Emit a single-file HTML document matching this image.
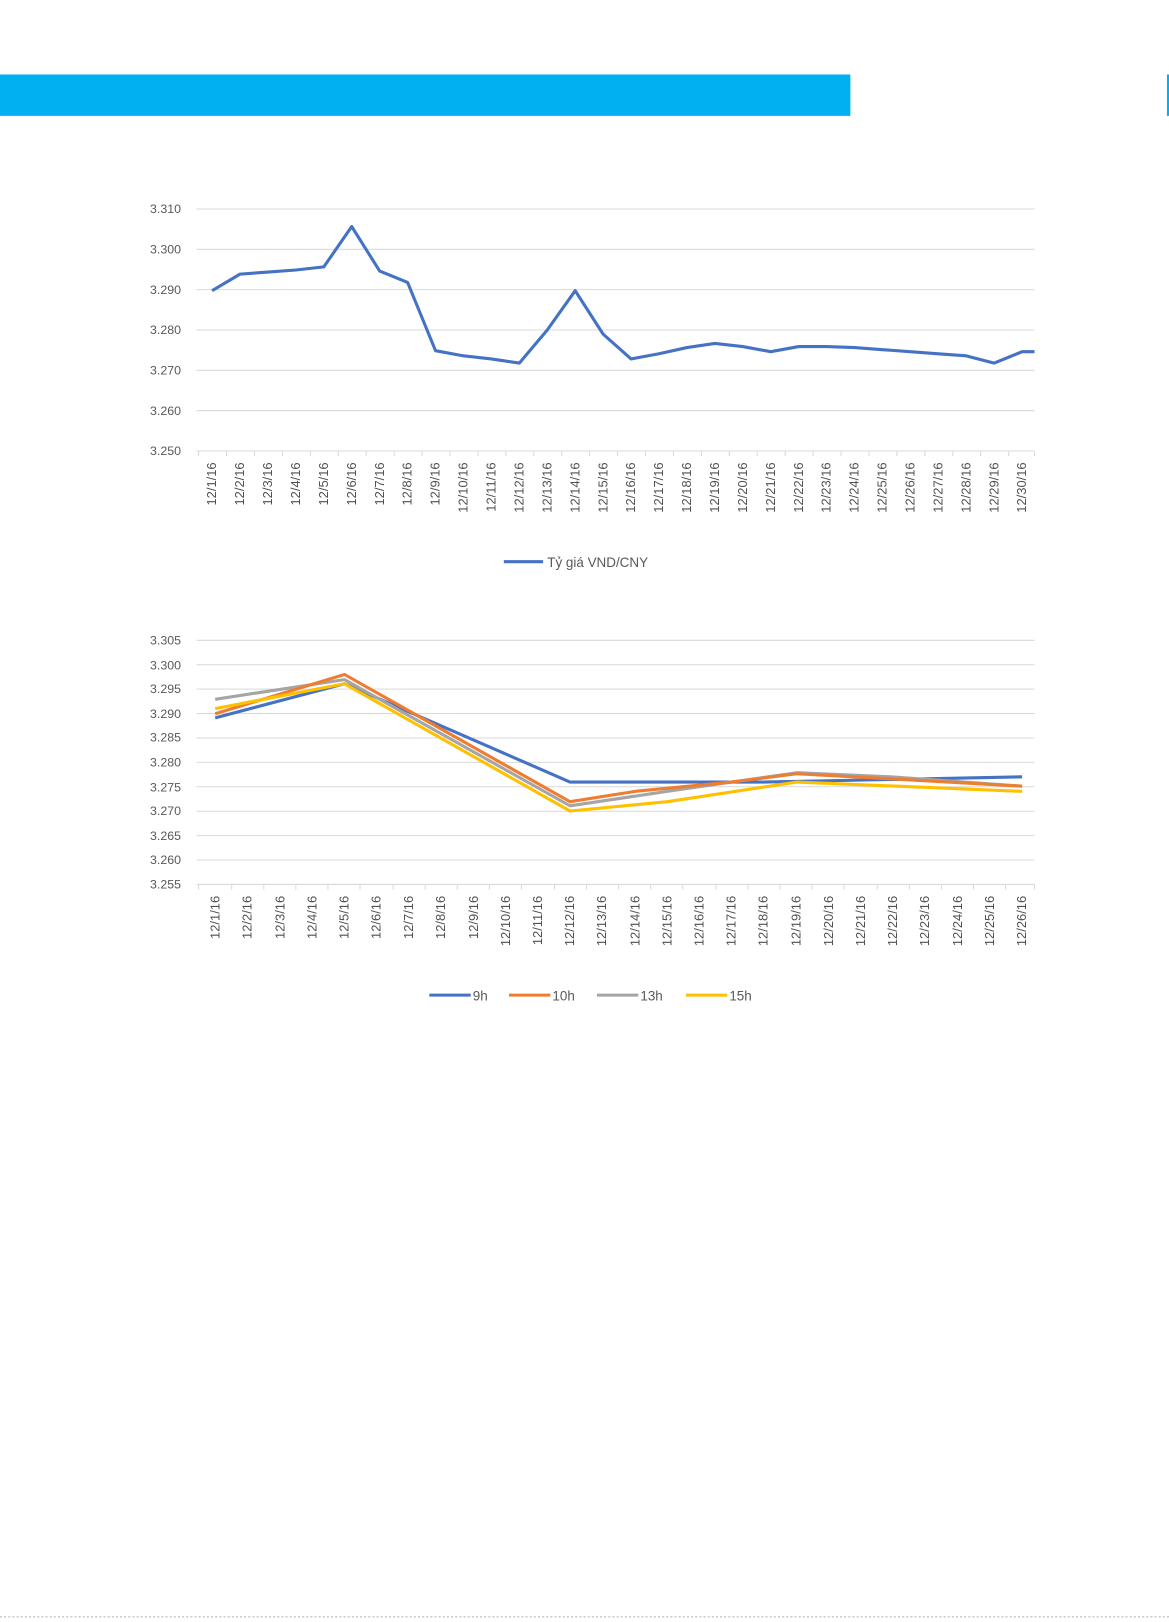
<!DOCTYPE html>
<html><head><meta charset="utf-8"><style>
html,body{margin:0;padding:0;background:#fff;}
svg{display:block;}
text{font-family:"Liberation Sans",sans-serif;fill:#595959;}
.xl text{fill:#505050;}
</style></head><body>
<svg width="1169" height="1622" viewBox="0 0 1130 1568" preserveAspectRatio="none" xmlns="http://www.w3.org/2000/svg">
<rect x="0" y="72" width="822" height="40" fill="#00b0f0"/>
<rect x="1128" y="72" width="2" height="40" fill="#00b0f0"/>

<!-- Chart 1 -->
<g stroke="#d9d9d9" stroke-width="1">
<line x1="190" y1="202" x2="1000" y2="202"/>
<line x1="190" y1="241" x2="1000" y2="241"/>
<line x1="190" y1="280" x2="1000" y2="280"/>
<line x1="190" y1="319" x2="1000" y2="319"/>
<line x1="190" y1="358" x2="1000" y2="358"/>
<line x1="190" y1="397" x2="1000" y2="397"/>
<line x1="190" y1="436" x2="1000" y2="436"/>
</g>
<g stroke="#d9d9d9" stroke-width="1">
<path d="M192 436v5M219 436v5M246 436v5M273 436v5M300 436v5M327 436v5M354 436v5M381 436v5M408 436v5M435 436v5M462 436v5M489 436v5M516 436v5M543 436v5M570 436v5M597 436v5M624 436v5M651 436v5M678 436v5M705 436v5M732 436v5M759 436v5M786 436v5M813 436v5M840 436v5M867 436v5M894 436v5M921 436v5M948 436v5M975 436v5M1000 436v5"/>
</g>
<g font-size="12" text-anchor="end">
<text x="175" y="206">3.310</text><text x="175" y="245">3.300</text><text x="175" y="284">3.290</text>
<text x="175" y="323">3.280</text><text x="175" y="362">3.270</text><text x="175" y="401">3.260</text><text x="175" y="440">3.250</text>
</g>
<g class="xl" font-size="12.5" text-anchor="end">
<text transform="translate(209,447) rotate(-90)">12/1/16</text>
<text transform="translate(236,447) rotate(-90)">12/2/16</text>
<text transform="translate(263,447) rotate(-90)">12/3/16</text>
<text transform="translate(290,447) rotate(-90)">12/4/16</text>
<text transform="translate(317,447) rotate(-90)">12/5/16</text>
<text transform="translate(344,447) rotate(-90)">12/6/16</text>
<text transform="translate(371,447) rotate(-90)">12/7/16</text>
<text transform="translate(398,447) rotate(-90)">12/8/16</text>
<text transform="translate(425,447) rotate(-90)">12/9/16</text>
<text transform="translate(452,447) rotate(-90)">12/10/16</text>
<text transform="translate(479,447) rotate(-90)">12/11/16</text>
<text transform="translate(506,447) rotate(-90)">12/12/16</text>
<text transform="translate(533,447) rotate(-90)">12/13/16</text>
<text transform="translate(560,447) rotate(-90)">12/14/16</text>
<text transform="translate(587,447) rotate(-90)">12/15/16</text>
<text transform="translate(614,447) rotate(-90)">12/16/16</text>
<text transform="translate(641,447) rotate(-90)">12/17/16</text>
<text transform="translate(668,447) rotate(-90)">12/18/16</text>
<text transform="translate(695,447) rotate(-90)">12/19/16</text>
<text transform="translate(722,447) rotate(-90)">12/20/16</text>
<text transform="translate(749,447) rotate(-90)">12/21/16</text>
<text transform="translate(776,447) rotate(-90)">12/22/16</text>
<text transform="translate(803,447) rotate(-90)">12/23/16</text>
<text transform="translate(830,447) rotate(-90)">12/24/16</text>
<text transform="translate(857,447) rotate(-90)">12/25/16</text>
<text transform="translate(884,447) rotate(-90)">12/26/16</text>
<text transform="translate(911,447) rotate(-90)">12/27/16</text>
<text transform="translate(938,447) rotate(-90)">12/28/16</text>
<text transform="translate(965,447) rotate(-90)">12/29/16</text>
<text transform="translate(992,447) rotate(-90)">12/30/16</text>
</g>
<polyline fill="none" stroke="#4472c4" stroke-width="3" stroke-linejoin="round" points="205,281 232,265 259,263 286,261 313,258 340,219 367,262 394,273 421,339 448,344 475,347 502,351 529,319 556,281 583,323 610,347 637,342 664,336 691,332 718,335 745,340 772,335 799,335 826,336 853,338 880,340 907,342 934,344 961,351 988,340 1000,340"/>
<line x1="487" y1="543" x2="525" y2="543" stroke="#4472c4" stroke-width="3"/>
<text x="529" y="548" font-size="13">Tỷ giá VND/CNY</text>

<!-- Chart 2 -->
<g stroke="#d9d9d9" stroke-width="1">
<line x1="190" y1="619" x2="1000" y2="619"/><line x1="190" y1="642.6" x2="1000" y2="642.6"/>
<line x1="190" y1="666.2" x2="1000" y2="666.2"/><line x1="190" y1="689.8" x2="1000" y2="689.8"/>
<line x1="190" y1="713.4" x2="1000" y2="713.4"/><line x1="190" y1="737" x2="1000" y2="737"/>
<line x1="190" y1="760.6" x2="1000" y2="760.6"/><line x1="190" y1="784.2" x2="1000" y2="784.2"/>
<line x1="190" y1="807.8" x2="1000" y2="807.8"/><line x1="190" y1="831.4" x2="1000" y2="831.4"/>
<line x1="190" y1="855" x2="1000" y2="855"/>
</g>
<g stroke="#d9d9d9" stroke-width="1">
<path d="M192 855v5M224 855v5M255 855v5M286 855v5M317 855v5M348 855v5M380 855v5M411 855v5M442 855v5M473 855v5M504 855v5M536 855v5M567 855v5M598 855v5M629 855v5M660 855v5M692 855v5M723 855v5M754 855v5M785 855v5M816 855v5M848 855v5M879 855v5M910 855v5M941 855v5M972 855v5M1000 855v5"/>
</g>
<g font-size="12" text-anchor="end">
<text x="175" y="623">3.305</text><text x="175" y="647">3.300</text><text x="175" y="670">3.295</text>
<text x="175" y="694">3.290</text><text x="175" y="717">3.285</text><text x="175" y="741">3.280</text>
<text x="175" y="765">3.275</text><text x="175" y="788">3.270</text><text x="175" y="812">3.265</text>
<text x="175" y="835">3.260</text><text x="175" y="859">3.255</text>
</g>
<g class="xl" font-size="12.5" text-anchor="end">
<text transform="translate(212,866) rotate(-90)">12/1/16</text>
<text transform="translate(243,866) rotate(-90)">12/2/16</text>
<text transform="translate(275,866) rotate(-90)">12/3/16</text>
<text transform="translate(306,866) rotate(-90)">12/4/16</text>
<text transform="translate(337,866) rotate(-90)">12/5/16</text>
<text transform="translate(368,866) rotate(-90)">12/6/16</text>
<text transform="translate(399,866) rotate(-90)">12/7/16</text>
<text transform="translate(430,866) rotate(-90)">12/8/16</text>
<text transform="translate(462,866) rotate(-90)">12/9/16</text>
<text transform="translate(493,866) rotate(-90)">12/10/16</text>
<text transform="translate(524,866) rotate(-90)">12/11/16</text>
<text transform="translate(555,866) rotate(-90)">12/12/16</text>
<text transform="translate(586,866) rotate(-90)">12/13/16</text>
<text transform="translate(618,866) rotate(-90)">12/14/16</text>
<text transform="translate(649,866) rotate(-90)">12/15/16</text>
<text transform="translate(680,866) rotate(-90)">12/16/16</text>
<text transform="translate(711,866) rotate(-90)">12/17/16</text>
<text transform="translate(742,866) rotate(-90)">12/18/16</text>
<text transform="translate(774,866) rotate(-90)">12/19/16</text>
<text transform="translate(805,866) rotate(-90)">12/20/16</text>
<text transform="translate(836,866) rotate(-90)">12/21/16</text>
<text transform="translate(867,866) rotate(-90)">12/22/16</text>
<text transform="translate(898,866) rotate(-90)">12/23/16</text>
<text transform="translate(930,866) rotate(-90)">12/24/16</text>
<text transform="translate(961,866) rotate(-90)">12/25/16</text>
<text transform="translate(992,866) rotate(-90)">12/26/16</text>
</g>
<g fill="none" stroke-width="3" stroke-linejoin="round">
<polyline stroke="#4472c4" points="208,694 333,661 551,756 738,756 988,751"/>
<polyline stroke="#a5a5a5" points="208,676 333,657 551,779 645,765 770,747 863,751 988,760"/>
<polyline stroke="#ed7d31" points="208,690 333,652 551,775 614,765 707,756 770,748 863,753 988,760"/>
<polyline stroke="#ffc000" points="208,685 333,661 551,784 645,775 770,756 988,765"/>
</g>
<g stroke-width="3">
<line x1="415" y1="962" x2="455" y2="962" stroke="#4472c4"/>
<line x1="492" y1="962" x2="532" y2="962" stroke="#ed7d31"/>
<line x1="577" y1="962" x2="617" y2="962" stroke="#a5a5a5"/>
<line x1="663" y1="962" x2="703" y2="962" stroke="#ffc000"/>
</g>
<g font-size="13">
<text x="457" y="967">9h</text><text x="534" y="967">10h</text><text x="619" y="967">13h</text><text x="705" y="967">15h</text>
</g>
<line x1="0" y1="1563" x2="1130" y2="1563" stroke="#bbb" stroke-width="1" stroke-dasharray="2,2"/>
</svg>
</body></html>
